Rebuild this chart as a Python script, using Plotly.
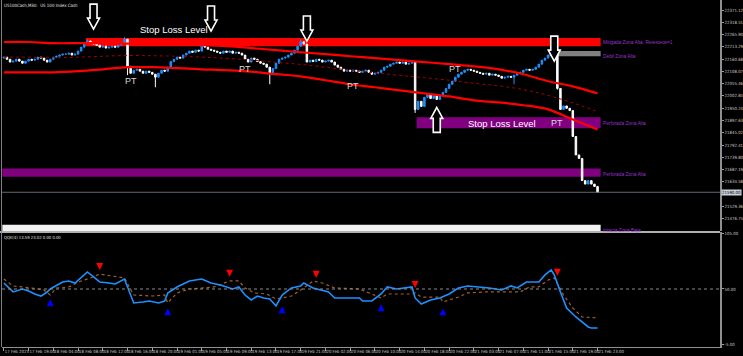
import plotly.graph_objects as go

W, H = 743, 356

# ---------------- data ----------------
title_main = "US100Cash,M30:  US 100 Index Cash"
title_ind = "QQE(4) 13.59 23.02 0.00 0.00"

first_open = 22165
closes = [
    22169, 22160, 22148, 22152, 22160, 22152, 22143, 22152, 22160, 22156,
    22160, 22169, 22165, 22156, 22148, 22160, 22169, 22173, 22178, 22182,
    22182, 22186, 22178, 22182, 22195, 22212, 22230, 22238, 22230, 22225,
    22220, 22212, 22216, 22208, 22212, 22216, 22212, 22220, 22230, 22246,
    22130, 22100, 22113, 22117, 22109, 22100, 22109, 22104, 22096, 22083,
    22100, 22113, 22109, 22126, 22150, 22160, 22169, 22165, 22178, 22186,
    22195, 22190, 22199, 22195, 22220, 22212, 22203, 22199, 22195, 22190,
    22186, 22195, 22190, 22195, 22186, 22190, 22186, 22178, 22160, 22148,
    22165, 22160, 22150, 22143, 22139, 22126, 22100, 22120, 22143, 22160,
    22165, 22169, 22178, 22186, 22199, 22216, 22235, 22225, 22148, 22156,
    22150, 22160, 22156, 22148, 22152, 22156, 22148, 22135, 22126, 22117,
    22109, 22113, 22109, 22113, 22109, 22104, 22109, 22113, 22104, 22096,
    22100, 22104, 22113, 22126, 22130, 22139, 22143, 22148, 22143, 22148,
    22139, 22143, 22148, 21945, 21980, 21958, 21997, 22010, 21992, 22005,
    21988, 22005, 22018, 22035, 22053, 22066, 22083, 22096, 22104, 22113,
    22117, 22113, 22109, 22104, 22100, 22096, 22100, 22092, 22096, 22092,
    22087, 22079, 22083, 22087, 22083, 22092, 22100, 22104, 22113, 22117,
    22113, 22117, 22126, 22139, 22156, 22165, 22178, 22186, 22195, 22035,
    21945, 21960, 21950, 21940, 21829, 21750, 21735, 21640, 21625, 21640,
    21625, 21615, 21590,
]
hi_wick_bars = [27, 39, 96, 178]
hi_wick_vals = [22245, 22255, 22245, 22200]
lo_wick_bars = [40, 49, 86, 133, 165, 179]
lo_wick_vals = [22092, 22040, 22053, 21930, 22053, 22030]

time_labels = [
    "17 Feb 2025", "17 Feb 19:00", "18 Feb 04:00", "18 Feb 08:00", "18 Feb 12:00",
    "18 Feb 16:00", "18 Feb 20:00", "19 Feb 01:00", "19 Feb 05:00", "19 Feb 09:00",
    "19 Feb 13:00", "19 Feb 17:00", "19 Feb 21:00", "20 Feb 02:00", "20 Feb 06:00",
    "20 Feb 10:00", "20 Feb 14:00", "20 Feb 18:00", "20 Feb 22:00", "21 Feb 03:00",
    "21 Feb 07:00", "21 Feb 11:00", "21 Feb 15:00", "21 Feb 19:00", "21 Feb 23:00",
]
time_label_bars = [0, 8, 16, 24, 32, 40, 48, 56, 64, 72, 80, 88, 96, 104, 112,
                   120, 128, 136, 144, 152, 160, 168, 176, 184, 192]

# 21581.97 sits under the current-price box in the reference, so it is not listed
price_ticks = [22371.12, 22318.51, 22265.90, 22213.29, 22160.68, 22108.07,
               22055.46, 22002.85, 21950.24, 21897.63, 21845.02, 21792.41,
               21739.80, 21687.19, 21634.58, 21529.36, 21476.75]
ind_ticks = [105.00, 50.00, -5.00]
ind_level = 50.0

env_bars = [0, 8, 16, 24, 32, 40, 48, 56, 64, 72, 80, 88, 96, 104, 112,
            120, 128, 136, 144, 152, 160, 168, 176, 184, 192]
env_upper = [22234, 22234, 22229, 22229, 22229, 22227, 22225, 22225, 22221, 22216,
             22208, 22199, 22190, 22182, 22173, 22165, 22156, 22148, 22139, 22130,
             22117, 22096, 22066, 22044, 22014]
env_middle = [22169, 22169, 22166, 22169, 22173, 22176, 22175, 22173, 22169, 22164,
              22157, 22147, 22138, 22126, 22113, 22102, 22091, 22081, 22070, 22057,
              22046, 22030, 22005, 21973, 21936]
env_lower = [22104, 22104, 22104, 22109, 22117, 22126, 22126, 22122, 22117, 22113,
             22107, 22096, 22087, 22070, 22053, 22040, 22027, 22014, 22001, 21984,
             21975, 21963, 21945, 21902, 21859]

zone_labels = ["Mitigada Zona Alta, Retesteos=1", "Débil Zona Alta",
               "Perforada Zona Alta", "Perforada Zona Alta", "Intacta Zona Baja"]
zone_start = [27, 177, 134, 0, 0]
zone_top = [22251, 22195, 21911, 21692, 21451]
zone_bottom = [22216, 22173, 21864, 21657, 21380]
zone_label_price = [22231, 22172, 21885, 21666, 21425]

sell_arrow_bars = [29, 67, 98, 178]
sell_arrow_prices = [22289, 22281, 22238, 22152]
buy_arrow_bars = [140]
buy_arrow_prices = [21954]

pt_bars = [41, 78, 113, 146, 179]
pt_prices = [22066, 22117, 22044, 22117, 21885]
sl_text = "Stop Loss Level"
sl_bars = [55, 161]
sl_prices = [22289, 21885]

qqe_bars = [0, 3, 6, 8, 10, 12, 14, 15, 19, 21, 23, 27, 29, 31, 34, 36, 39, 42, 45,
            47, 50, 52, 53, 56, 60, 64, 67, 70, 74, 76, 78, 80, 82, 84, 86, 88, 90,
            93, 96, 97, 100, 105, 107, 115, 116, 119, 122, 124, 127, 132, 133, 135,
            138, 141, 144, 147, 150, 154, 157, 161, 164, 166, 169, 173, 175, 177,
            178, 180, 182, 185, 189, 190, 192]
qqe_vals = [55.9, 47.1, 50.0, 48.0, 45.0, 43.0, 47.0, 50.0, 56.9, 57.9, 55.9, 66.7,
            61.8, 56.9, 55.9, 54.9, 59.8, 36.3, 37.2, 38.2, 36.3, 38.2, 46.1, 52.0,
            57.9, 59.8, 55.9, 53.9, 50.0, 52.0, 44.1, 39.2, 43.1, 41.2, 40.2, 33.3,
            44.1, 51.0, 53.0, 55.9, 51.0, 47.1, 41.2, 41.2, 38.2, 38.2, 45.1, 52.0,
            50.0, 52.0, 41.2, 35.3, 39.2, 41.2, 45.1, 51.0, 53.0, 52.0, 51.0, 49.0,
            53.0, 51.0, 56.9, 56.9, 63.8, 68.7, 63.8, 47.1, 31.3, 22.5, 12.7, 11.7,
            11.7]
sig_bars = [0, 3, 9, 13, 15, 17, 21, 25, 28, 31, 39, 42, 48, 52, 53, 56, 60, 64,
            68, 73, 76, 78, 81, 85, 88, 90, 93, 96, 100, 103, 107, 115, 118, 122,
            124, 132, 133, 135, 141, 142, 147, 150, 156, 167, 170, 173, 176, 178,
            181, 184, 187, 190, 192]
sig_vals = [59.8, 53.0, 51.0, 49.0, 44.1, 51.0, 52.0, 57.9, 60.8, 64.7, 60.8, 44.1,
            43.1, 44.1, 36.3, 46.1, 50.0, 51.0, 52.0, 57.9, 57.9, 51.0, 46.1, 45.1,
            40.2, 41.2, 43.1, 49.0, 57.9, 55.9, 51.0, 50.0, 46.1, 41.2, 45.1, 45.1,
            46.1, 42.1, 42.1, 37.2, 42.1, 46.1, 47.1, 47.1, 52.0, 52.0, 58.8, 60.8,
            44.1, 31.3, 22.5, 21.6, 21.6]
dn_sig_bars = [31, 73, 101, 133, 179]
dn_sig_vals = [68.7, 62.0, 61.0, 51.0, 63.0]
up_sig_bars = [15, 53, 90, 122, 142]
up_sig_vals = [40.0, 31.0, 33.0, 35.0, 31.0]

# ---------------- build ----------------
N = len(closes)
bars = list(range(N))
opens = [first_open] + closes[:-1]
highs = [max(o, c) for o, c in zip(opens, closes)]
lows = [min(o, c) for o, c in zip(opens, closes)]
for b, v in zip(hi_wick_bars, hi_wick_vals):
    highs[b] = max(highs[b], v)
for b, v in zip(lo_wick_bars, lo_wick_vals):
    lows[b] = min(lows[b], v)

BLUE = "#1E90FF"
FONT = "Arial"
NARROW = "Liberation Sans Narrow, DejaVu Sans Condensed, Arial Narrow, Arial"
X0, X1 = 2 / W, 720 / W
XR = [-0.6, 231.6]
TF = dict(family=NARROW, size=4.3, color="#C8C8C8")

fig = go.Figure()

fig.add_trace(go.Scatter(x=env_bars, y=env_middle, mode="lines", line=dict(color="#A00000", width=1, dash="dot", shape="spline"), xaxis="x", yaxis="y", hoverinfo="skip"))
fig.add_trace(go.Scatter(x=env_bars, y=env_upper, mode="lines", line=dict(color="#FF0000", width=2.2, shape="spline"), xaxis="x", yaxis="y", hoverinfo="skip"))
fig.add_trace(go.Scatter(x=env_bars, y=env_lower, mode="lines", line=dict(color="#FF0000", width=2.2, shape="spline"), xaxis="x", yaxis="y", hoverinfo="skip"))

fig.add_trace(go.Candlestick(
    x=bars, open=opens, high=highs, low=lows, close=closes,
    increasing=dict(line=dict(color=BLUE, width=1), fillcolor=BLUE),
    decreasing=dict(line=dict(color="#FFFFFF", width=1), fillcolor="#FFFFFF"),
    whiskerwidth=0, xaxis="x", yaxis="y", hoverinfo="skip"))

# indicator
fig.add_trace(go.Scatter(x=sig_bars, y=sig_vals, mode="lines", line=dict(color="#A0602A", width=1.2, dash="dot"), xaxis="x2", yaxis="y2", hoverinfo="skip"))
fig.add_trace(go.Scatter(x=qqe_bars, y=qqe_vals, mode="lines", line=dict(color=BLUE, width=1.6), xaxis="x2", yaxis="y2", hoverinfo="skip"))
fig.add_trace(go.Scatter(x=dn_sig_bars, y=dn_sig_vals, mode="markers", marker=dict(symbol="arrow-down", size=7, color="#FF0000"), xaxis="x2", yaxis="y2", hoverinfo="skip"))
fig.add_trace(go.Scatter(x=up_sig_bars, y=up_sig_vals, mode="markers", marker=dict(symbol="arrow-up", size=7, color="#0000FF"), xaxis="x2", yaxis="y2", hoverinfo="skip"))

shapes = []
zone_colors = ["#FF0000", "#808080", "#800080", "#800080", "#F2F2F2"]
for s, t, b, col in zip(zone_start, zone_top, zone_bottom, zone_colors):
    shapes.append(dict(type="rect", xref="x", yref="y", x0=s - 0.5, x1=N, y0=b, y1=t,
                       fillcolor=col, line=dict(width=0), layer="below"))

down_path = "M0,0 L-6,11 L-3.5,11 L-3.5,25 L3.5,25 L3.5,11 L6,11 Z"
up_path = "M0,0 L-6,-11 L-3.5,-11 L-3.5,-25 L3.5,-25 L3.5,-11 L6,-11 Z"
for b, p in zip(sell_arrow_bars, sell_arrow_prices):
    shapes.append(dict(type="path", xref="x", yref="y", xsizemode="pixel", ysizemode="pixel",
                       xanchor=b, yanchor=p, path=down_path, fillcolor="#000000",
                       line=dict(color="#FFFFFF", width=1.6), layer="above"))
for b, p in zip(buy_arrow_bars, buy_arrow_prices):
    shapes.append(dict(type="path", xref="x", yref="y", xsizemode="pixel", ysizemode="pixel",
                       xanchor=b, yanchor=p, path=up_path, fillcolor="#000000",
                       line=dict(color="#FFFFFF", width=1.6), layer="above"))

# current price line
shapes.append(dict(type="line", xref="paper", yref="y", x0=X0, x1=X1, y0=closes[-1], y1=closes[-1],
                   line=dict(color="#5E6A75", width=1)))
# indicator level
shapes.append(dict(type="line", xref="paper", yref="y2", x0=X0, x1=X1, y0=ind_level, y1=ind_level,
                   line=dict(color="#8A8A8A", width=1, dash="dot")))
# frame lines
shapes.append(dict(type="line", xref="paper", yref="paper", x0=0, x1=X1, y0=1 - 232 / H, y1=1 - 232 / H,
                   line=dict(color="#B0B0B0", width=2)))
shapes.append(dict(type="line", xref="paper", yref="paper", x0=1.5 / W, x1=1.5 / W, y0=1 - 347 / H, y1=1,
                   line=dict(color="#808080", width=1)))

ann = []
ann.append(dict(xref="paper", yref="paper", x=2 / W, y=1 - 1 / H, xanchor="left", yanchor="top",
                text=title_main, showarrow=False, font=dict(family=NARROW, size=4.4, color="#E0E0E0")))
ann.append(dict(xref="paper", yref="paper", x=2 / W, y=1 - 233 / H, xanchor="left", yanchor="top",
                text=title_ind, showarrow=False, font=dict(family=NARROW, size=4.2, color="#E0E0E0")))
for b, p in zip(pt_bars, pt_prices):
    ann.append(dict(xref="x", yref="y", x=b, y=p, text="PT", showarrow=False,
                    font=dict(family=FONT, size=9, color="#DADADA")))
for b, p in zip(sl_bars, sl_prices):
    ann.append(dict(xref="x", yref="y", x=b, y=p, text=sl_text, showarrow=False,
                    font=dict(family=FONT, size=9.5, color="#FFFFFF")))
for lab, p in zip(zone_labels, zone_label_price):
    ann.append(dict(xref="x", yref="y", x=N + 0.2, y=p, text=lab, showarrow=False, xanchor="left",
                    font=dict(family=FONT, size=4.8, color="#9932CC")))
ann.append(dict(xref="paper", yref="y", x=721 / W, y=closes[-1], xanchor="left", yanchor="middle",
                text=f"{closes[-1]:.2f}", showarrow=False, bgcolor="#C9D1DA", borderpad=0,
                font=dict(family=NARROW, size=4.3, color="#000000")))

axis_common = dict(showgrid=False, zeroline=False, automargin=False)
fig.update_layout(
    width=W, height=H, margin=dict(l=0, r=0, t=0, b=0, autoexpand=False),
    paper_bgcolor="#000000", plot_bgcolor="#000000", showlegend=False,
    shapes=shapes, annotations=ann,
    xaxis=dict(domain=[X0, X1], range=XR, anchor="y", showticklabels=False, ticks="",
               rangeslider=dict(visible=False), showline=False, **axis_common),
    yaxis=dict(domain=[1 - 231 / H, 1], range=[21424, 22414], side="right", anchor="x",
               tickvals=price_ticks, ticktext=[f"{v:.2f}" for v in price_ticks],
               ticks="outside", ticklen=2, tickcolor="#A0A0A0", showline=True, linecolor="#909090",
               linewidth=1.5, tickfont=TF, **axis_common),
    xaxis2=dict(domain=[X0, X1], range=XR, anchor="y2", matches="x",
                tickvals=time_label_bars, ticktext=time_labels, ticks="outside", ticklen=3,
                tickcolor="#A0A0A0", ticklabelposition="outside right", showline=True,
                linecolor="#909090", tickfont=TF, tickangle=0, **axis_common),
    yaxis2=dict(domain=[1 - 347 / H, 1 - 232 / H], range=[-7, 106], side="right", anchor="x2",
                tickvals=ind_ticks, ticktext=[f"{v:.2f}" for v in ind_ticks],
                ticks="outside", ticklen=2, tickcolor="#A0A0A0", showline=True, linecolor="#909090",
                linewidth=1.5, tickfont=TF, **axis_common),
)

fig.write_html("out.html", config={"displayModeBar": False},
               post_script="document.body.style.margin='0px';document.body.style.padding='0px';"
                           "document.body.style.background='#000';document.body.style.overflow='hidden';")
